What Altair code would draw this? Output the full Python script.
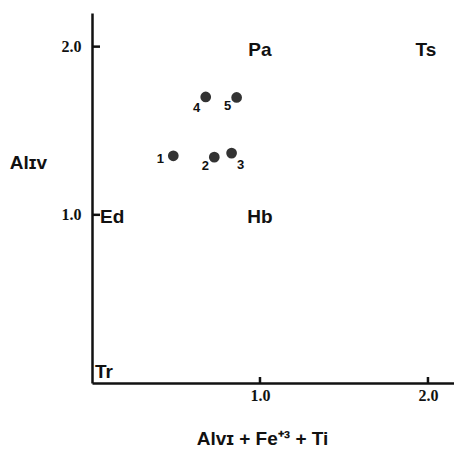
import altair as alt
import pandas as pd

# ---- data ----
pt_label = ["1", "2", "3", "4", "5"]
pt_x = [0.484, 0.728, 0.831, 0.677, 0.861]
pt_y = [1.351, 1.343, 1.367, 1.701, 1.698]

end_label = ["Tr", "Ed", "Hb", "Pa", "Ts"]
end_x = [0.0, 0.0, 1.0, 1.0, 2.0]
end_y = [0.0, 1.0, 1.0, 2.0, 2.0]

tick_values = [1.0, 2.0]

# ---- layout / style ----
X_MAX = 2.155
Y_MAX = 2.2
PLOT_W = 362
PLOT_H = 370
INK = "#111111"

points = pd.DataFrame({"label": pt_label, "x": pt_x, "y": pt_y})
members = pd.DataFrame({"name": end_label, "x": end_x, "y": end_y})
ticks = pd.DataFrame({"v": tick_values})

xs = alt.Scale(domain=[0, X_MAX], nice=False, zero=False)
ys = alt.Scale(domain=[0, Y_MAX], nice=False, zero=False)

x_axis = alt.Axis(
    values=tick_values, format=".1f", grid=False, ticks=False,
    domainColor=INK, domainWidth=2.5,
    labelFont="Liberation Serif", labelFontWeight="bold", labelFontSize=16,
    labelColor=INK, labelPadding=4,
    title="Alᴠɪ + Fe⁺³ + Ti", titleFont="Liberation Sans", titleFontSize=19,
    titleFontWeight="bold", titleColor=INK,
    titleX=170, titleY=55, titleAlign="center", titleBaseline="middle",
)
y_axis = alt.Axis(
    values=tick_values, format=".1f", grid=False, ticks=False,
    domainColor=INK, domainWidth=2.5,
    labelFont="Liberation Serif", labelFontWeight="bold", labelFontSize=16,
    labelColor=INK, labelPadding=11,
    title="Alɪᴠ", titleFont="Liberation Sans", titleFontSize=19,
    titleFontWeight="bold", titleColor=INK, titleAngle=0,
    titleX=-64, titleY=149, titleAlign="center", titleBaseline="middle",
)

dots = alt.Chart(points).mark_circle(size=115, color="#333333", opacity=1).encode(
    x=alt.X("x:Q", scale=xs, axis=x_axis),
    y=alt.Y("y:Q", scale=ys, axis=y_axis),
)

ytick = alt.Chart(ticks).mark_rule(color=INK, strokeWidth=2.5).encode(
    y=alt.Y("v:Q", scale=ys), x=alt.value(0), x2=alt.value(8)
)
xtick = alt.Chart(ticks).mark_rule(color=INK, strokeWidth=2.5).encode(
    x=alt.X("v:Q", scale=xs), y=alt.value(PLOT_H), y2=alt.value(PLOT_H - 6)
)

# end-member labels
member_style = {
    "Tr": dict(align="left", dx=3, dy=-11),
    "Ed": dict(align="left", dx=8, dy=2),
    "Hb": dict(align="center", dx=0, dy=2),
    "Pa": dict(align="center", dx=0, dy=3),
    "Ts": dict(align="center", dx=-2, dy=3),
}
member_layers = []
for name, st in member_style.items():
    member_layers.append(
        alt.Chart(members).transform_filter(alt.datum.name == name)
        .mark_text(font="Liberation Sans", fontWeight="bold", fontSize=19,
                   color=INK, baseline="middle", **st)
        .encode(x=alt.X("x:Q", scale=xs), y=alt.Y("y:Q", scale=ys), text="name:N")
    )

# point number labels
num_offset = {"1": (-13, 3), "2": (-9, 9), "3": (9, 12), "4": (-9, 11), "5": (-9, 9)}
num_layers = []
for lab, (dx, dy) in num_offset.items():
    num_layers.append(
        alt.Chart(points).transform_filter(alt.datum.label == lab)
        .mark_text(font="Liberation Sans Narrow, Liberation Sans", fontWeight="bold",
                   fontSize=13, color=INK, baseline="middle", align="center", dx=dx, dy=dy)
        .encode(x=alt.X("x:Q", scale=xs), y=alt.Y("y:Q", scale=ys), text="label:N")
    )

chart = alt.layer(dots, ytick, xtick, *member_layers, *num_layers).properties(
    width=PLOT_W, height=PLOT_H,
    autosize=alt.AutoSizeParams(type="none"),
    padding={"left": 84, "top": 5, "right": 0, "bottom": 67},
    background="white",
).configure_view(stroke=None)

chart.save("out.html", embed_options={"renderer": "svg", "actions": False})
